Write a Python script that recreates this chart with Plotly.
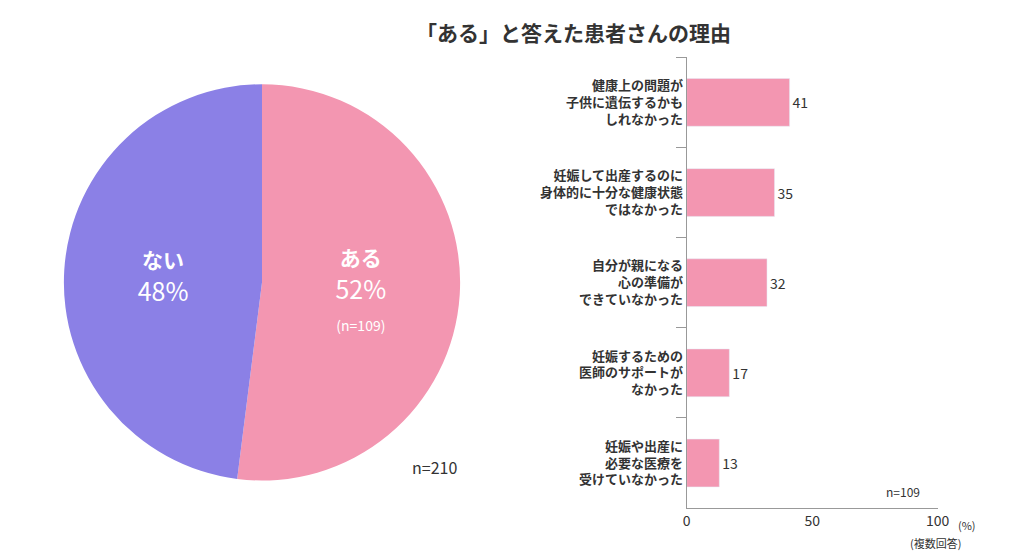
import plotly.graph_objects as go

pie_labels = ["ある", "ない"]
pie_values = [52, 48]
pie_counts = ["(n=109)", ""]
pie_colors = ["#f396b1", "#8b80e6"]

reasons = [
    "健康上の問題が<br>子供に遺伝するかも<br>しれなかった",
    "妊娠して出産するのに<br>身体的に十分な健康状態<br>ではなかった",
    "自分が親になる<br>心の準備が<br>できていなかった",
    "妊娠するための<br>医師のサポートが<br>なかった",
    "妊娠や出産に<br>必要な医療を<br>受けていなかった",
]
reason_values = [41, 35, 32, 17, 13]

font = "Noto Sans CJK JP"

fig = go.Figure()
fig.add_trace(go.Pie(
    labels=pie_labels, values=pie_values, customdata=pie_counts,
    sort=False, direction="clockwise", rotation=0,
    marker=dict(colors=pie_colors),
    texttemplate="<b><span style='font-size:21px'>%{label}</span></b><br>"
                 "%{value}%<br>"
                 "<span style='font-size:14px'>%{customdata}</span>",
    textposition="inside", insidetextorientation="horizontal",
    textfont=dict(color="white", family=font, size=25),
    domain=dict(x=[0.055, 0.445], y=[0.155, 0.865]),
    showlegend=False, hoverinfo="label+percent",
))
fig.add_trace(go.Bar(
    x=reason_values, y=["<b>" + r + "</b>" for r in reasons], orientation="h",
    marker=dict(color="#f396b1"), width=0.53,
    text=reason_values, textposition="outside",
    textfont=dict(size=14, color="#333", family=font),
    showlegend=False, cliponaxis=False,
))

fig.update_layout(
    width=1016, height=560,
    margin=dict(l=0, r=0, t=0, b=0, autoexpand=False),
    paper_bgcolor="white", plot_bgcolor="white",
    font=dict(family=font, color="#333"),
    xaxis=dict(domain=[0.668, 0.915], range=[0, 100], tickvals=[0, 50, 100],
               showgrid=False, zeroline=False, showline=True, linecolor="#999",
               ticks="outside", ticklen=0, tickfont=dict(size=14)),
    yaxis=dict(domain=[0.107, 0.912], autorange="reversed", showgrid=False,
               showline=True, linecolor="#999", ticks="outside", tickson="boundaries",
               ticklen=10, tickcolor="#999",
               tickfont=dict(size=13, color="#333", family=font)),
    annotations=[
        dict(text="<b>「ある」と答えた患者さんの理由</b>", x=0.714, y=0.957, xref="paper", yref="paper",
             yanchor="middle", showarrow=False, font=dict(size=21, color="#333")),
        dict(text="n=210", x=0.42, y=0.18, xref="paper", yref="paper", yanchor="middle",
             showarrow=False, font=dict(size=16, color="#333")),
        dict(text="n=109", x=0.9, y=0.136, xref="paper", yref="paper", yanchor="middle",
             showarrow=False, font=dict(size=12, color="#333")),
        dict(text="(%)", x=0.955, y=0.077, xref="paper", yref="paper", yanchor="middle",
             showarrow=False, font=dict(size=11, color="#333")),
        dict(text="(複数回答)", x=0.94, y=0.044, xref="paper", yref="paper", yanchor="middle",
             showarrow=False, font=dict(size=11, color="#333")),
    ],
)

fig.write_html("out.html")
